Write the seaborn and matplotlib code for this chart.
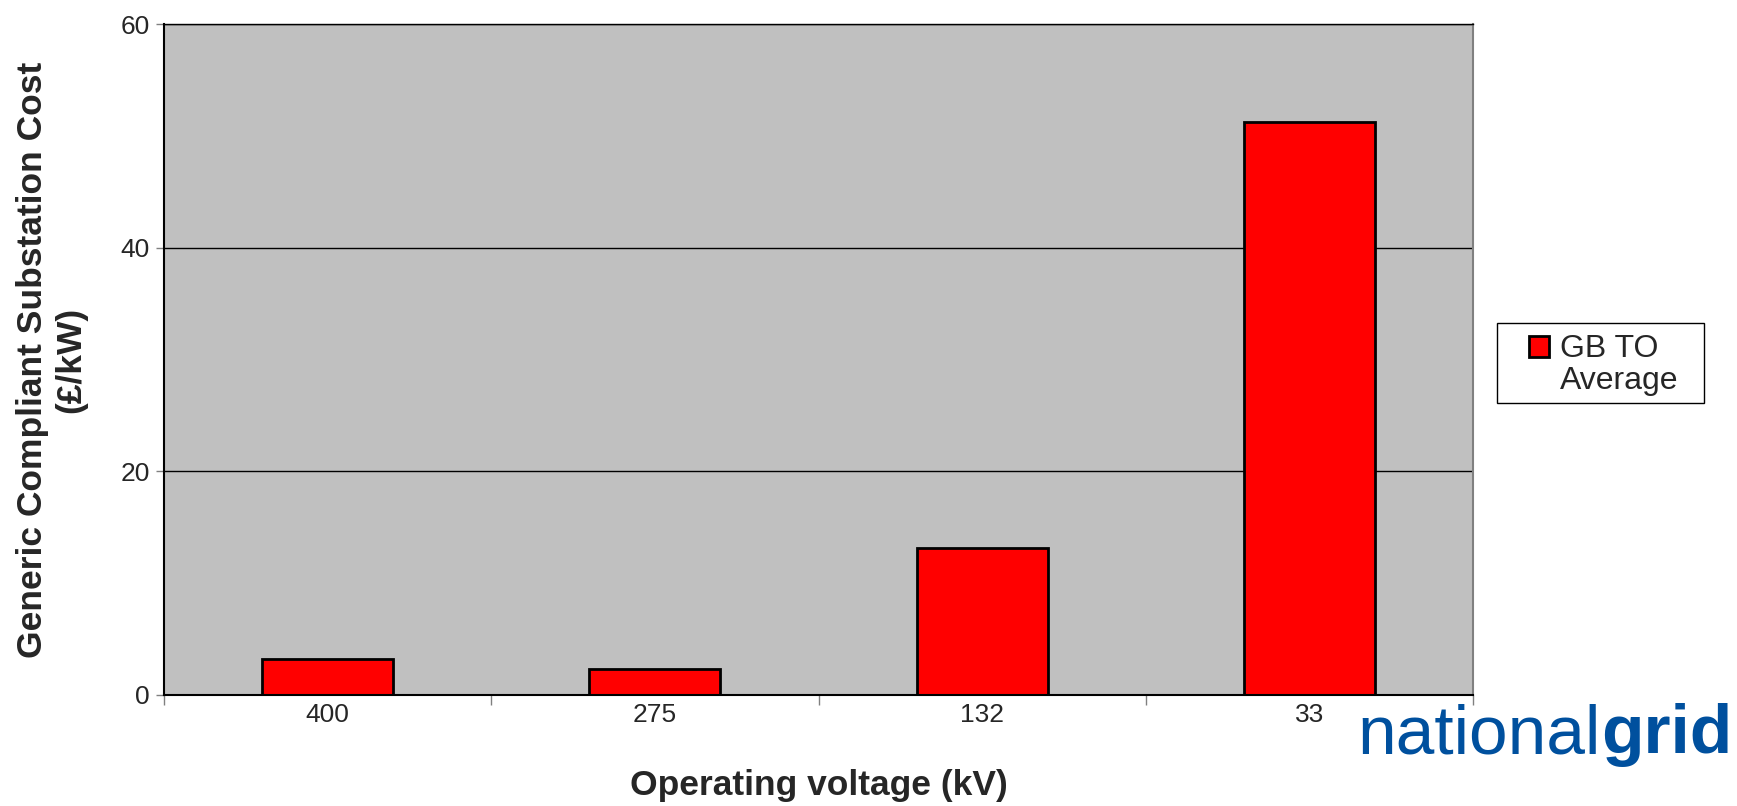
import matplotlib
matplotlib.use("Agg")
import matplotlib.pyplot as plt
import matplotlib.patches as mpatches
from matplotlib.container import BarContainer
from matplotlib.legend_handler import HandlerPatch, update_from_first_child
import seaborn as sns
import numpy as np

# datos
voltages = ["400", "275", "132", "33"]
costs = [3.2, 2.3, 13.1, 51.3]
series_label = "GB TO\nAverage"

sns.set_style("white")
plt.rcParams["font.family"] = ["Liberation Sans", "DejaVu Sans"]

fig = plt.figure(figsize=(17.37, 8.06), dpi=100)
ax = fig.add_axes([164 / 1737, 1 - 694.6 / 806, (1473 - 164) / 1737, (694.6 - 24.4) / 806])
ax.set_facecolor("#c0c0c0")

sns.barplot(x=voltages, y=costs, color="#ff0000", edgecolor="black",
            linewidth=2, width=0.4, saturation=1, label=series_label, ax=ax)

ax.set_ylim(0, 60)
ax.set_xlim(-0.5, 3.5)
ax.set_yticks([0, 20, 40, 60])
ax.yaxis.grid(True, color="black", linewidth=1)
ax.set_axisbelow(True)
ax.tick_params(axis="y", labelsize=19, length=6, width=1, color="#808080", left=True, pad=4)
ax.tick_params(axis="x", which="major", length=0, labelsize=19, pad=6)
ax.set_xticks(np.arange(-0.5, 4.0, 1.0), minor=True)
ax.tick_params(axis="x", which="minor", length=7, width=1, color="#808080", bottom=True)

for s in ["left", "bottom"]:
    ax.spines[s].set_color("black")
    ax.spines[s].set_linewidth(1.5)
ax.spines["top"].set_color("black")
ax.spines["top"].set_linewidth(1)
ax.spines["right"].set_color("#808080")
ax.spines["right"].set_linewidth(1.5)

ax.set_xlabel("Operating voltage (kV)", fontsize=25.5, fontweight="bold", labelpad=30)
ax.set_ylabel("Generic Compliant Substation Cost\n(£/kW)", fontsize=25.5,
              fontweight="bold", labelpad=24)


# cuadradito de la leyenda alineado con la primera linea
def top_square(legend, orig_handle, xdescent, ydescent, width, height, fontsize):
    return mpatches.Rectangle((-xdescent, -ydescent + 0.6 * fontsize), width, height)


leg = ax.legend(loc="upper left", bbox_to_anchor=(1529 / 1737, 1 - 334 / 806),
                bbox_transform=fig.transFigure, borderaxespad=0, borderpad=0,
                fontsize=23, frameon=False,
                handlelength=0.62, handleheight=0.62, handletextpad=0.34,
                handler_map={BarContainer: HandlerPatch(patch_func=top_square,
                                                        update_func=update_from_first_child)})
for t in leg.get_texts():
    t.set_linespacing(1.1)

# marco de la leyenda
frame = mpatches.Rectangle((1497 / 1737, 1 - 403 / 806), 207 / 1737, 80 / 806,
                           transform=fig.transFigure, facecolor="white",
                           edgecolor="black", linewidth=1, zorder=0)
fig.add_artist(frame)

# logo de national grid
blue = "#00509e"
fig.text(1601 / 1737, 1 - 753 / 806, "national", color=blue, fontsize=50,
         ha="right", va="baseline")
fig.text(1601 / 1737, 1 - 753 / 806, "grid", color=blue, fontsize=50,
         fontweight="bold", ha="left", va="baseline")

fig.savefig("out.png", dpi=100)
